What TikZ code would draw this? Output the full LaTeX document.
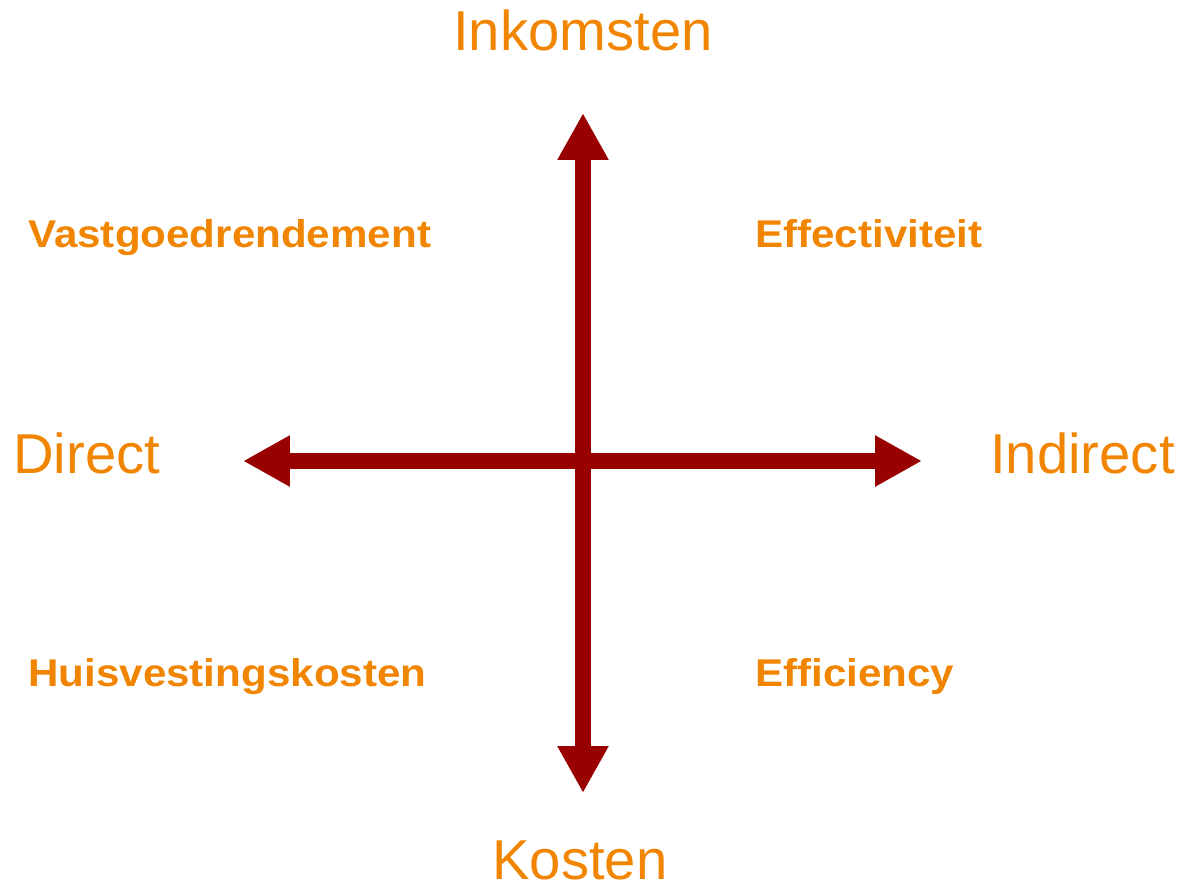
\documentclass[tikz,border=0pt]{standalone}
\usepackage{fontspec}
\setmainfont{Liberation Sans}
\usepackage{tikz}
\usetikzlibrary{positioning, arrows.meta}
\definecolor{axisred}{RGB}{153,0,0}
\definecolor{labelorange}{RGB}{242,133,0}

\begin{document}
\begin{tikzpicture}[x=0.02cm, y=-0.02cm,
		axis/.style={draw=axisred, line width=0.32cm, {Triangle[length=0.94cm, width=0.96cm]}-{Triangle[length=0.94cm, width=0.96cm]}},
		pole/.style={text=labelorange, inner sep=0pt, font=\fontsize{32}{36}\selectfont},
		quad/.style={text=labelorange, inner sep=0pt, anchor=base west, font=\fontsize{22}{26}\selectfont\bfseries\addfontfeature{FakeStretch=1.09}}]
		\useasboundingbox (0, 0) rectangle (1184, 886);
		% Axis end points
		\coordinate (top) at (583, 113);
		\coordinate (bottom) at (583, 793);
		\coordinate (left) at (243, 461);
		\coordinate (right) at (922, 461);
		% Draw axes
		\draw[axis] (bottom) -- (top);
		\draw[axis] (left) -- (right);
		% Labels at the ends
		\node[pole, anchor=base] (inkomsten) at (583, 50) {Inkomsten};
		\node[pole, anchor=base] (kosten) at (580, 879) {Kosten};
		\node[pole, anchor=base west] (direct) at (13, 473) {Direct};
		\node[pole, anchor=base west] (indirect) at (990, 473) {Indirect};
		% Quadrant labels
		\node[quad] (vastgoed) at (28, 247) {Vastgoedrendement};
		\node[quad] (effectiviteit) at (755, 247) {Effectiviteit};
		\node[quad] (huisvesting) at (28, 686) {Huisvestingskosten};
		\node[quad] (efficiency) at (755, 686) {Efficiency};
	\end{tikzpicture}
\end{document}
